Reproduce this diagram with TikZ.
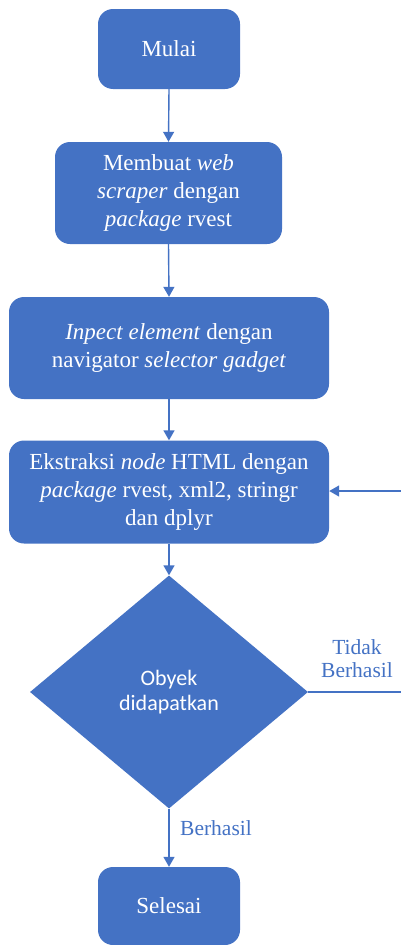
\documentclass[tikz,border=0pt]{standalone}
\usepackage{fontspec}
\setmainfont{Liberation Serif}
\newfontfamily\dsans{Carlito}
\usetikzlibrary{arrows.meta,shapes.geometric}
\definecolor{boxblue}{HTML}{4472C4}
\begin{document}
\begin{tikzpicture}[x=1pt,y=-1pt,
  proc/.style={fill=boxblue, draw=none, rounded corners=15pt, text=white, align=center,
    font=\fontsize{23}{27.6}\selectfont, inner sep=0pt},
  dec/.style={diamond, fill=boxblue, draw=none, text=white, align=center, inner sep=0pt,
    minimum width=278pt, minimum height=233pt, font=\dsans\fontsize{22}{25}\selectfont},
  conn/.style={draw=boxblue, line width=1.4pt, -{Triangle[width=11pt,length=10pt]}},
  lbl/.style={text=boxblue, align=center, font=\fontsize{21.5}{23}\selectfont, inner sep=0pt}]
\useasboundingbox (0,0) rectangle (401,945);

\node[proc, minimum width=142pt, minimum height=80pt] (mulai) at (169,49) {Mulai};
\node[proc, minimum width=227pt, minimum height=102pt] (buat) at (168.5,193) {Membuat \textit{web}\\\textit{scraper} dengan\\\textit{package} rvest};
\node[proc, minimum width=320pt, minimum height=102pt] (inspect) at (169,348) {\textit{Inpect element} dengan\\navigator \textit{selector gadget}};
\node[proc, minimum width=320pt, minimum height=103pt] (ekstrak) at (169,492) {Ekstraksi \textit{node} HTML dengan\\\textit{package} rvest, xml2, stringr\\dan dplyr};
\node[dec] (obyek) at (169,692) {Obyek\\didapatkan};
\node[proc, minimum width=142pt, minimum height=78pt] (selesai) at (169,906) {Selesai};

\coordinate (r1) at (403,692);
\coordinate (r2) at (403,491);

\draw[conn] (mulai.south) -- (buat.north);
\draw[conn] (buat.south) -- (inspect.north);
\draw[conn] (inspect.south) -- (ekstrak.north);
\draw[conn] (ekstrak.south) -- (obyek.north);
\draw[conn] (obyek.south) -- (selesai.north);
\draw[conn] (obyek.east) -- (r1) -- (r2) -- (r2 -| ekstrak.east);

\node[lbl] (tidak) at (357,659) {Tidak\\Berhasil};
\node[lbl, anchor=west] (berhasil) at (180,828) {Berhasil};
\end{tikzpicture}
\end{document}
